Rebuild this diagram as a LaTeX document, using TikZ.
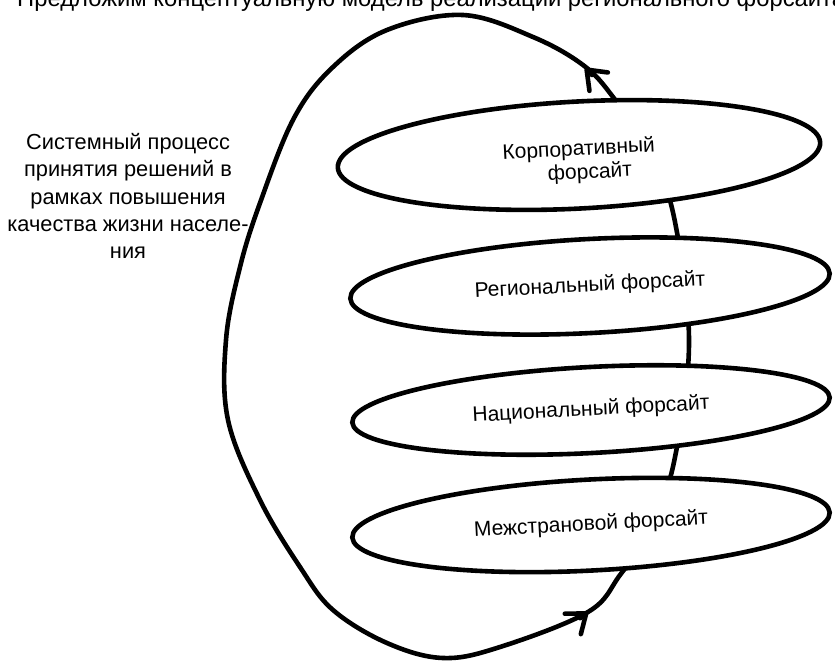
\documentclass[tikz,border=0pt]{standalone}
\usepackage{fontspec}
\setmainfont{Liberation Sans}
\usetikzlibrary{arrows.meta,shapes.geometric}
\tikzset{
  loopline/.style={line width=4.6pt, line join=round},
  arr/.style={line width=4.6pt, line cap=round, -{Straight Barb[length=17pt,width=26pt,line cap=round,line join=round]}},
  fsbox/.style={draw, fill=white, ellipse, line width=4.6pt, inner sep=0pt, rotate=3,
     font=\fontsize{21}{23.5}\selectfont, align=center},
  sidetext/.style={font=\fontsize{21.8}{27.2}\selectfont, align=center, inner sep=0pt},
  titletext/.style={font=\fontsize{23.8}{28}\selectfont, anchor=base west, inner sep=0pt}
}
\begin{document}
\begin{tikzpicture}[x=1pt,y=-1pt]
\useasboundingbox (0,0) rectangle (835,661);
\begin{scope}
\clip (0,0) rectangle (835,661);
\node[titletext] (title) at (17,7) {Предложим концептуальную модель реализации регионального форсайта};
\end{scope}
% big loop
\draw[loopline] plot[smooth cycle, tension=0.6] coordinates {
 (463,15) (533,37) (583,65) (613,97) (652,155) (675,222) (689,343) (674,462)
 (650,530) (620,575) (588,612) (500,647) (443,658) (387,643) (333,610) (300,567)
 (260,500) (228,420) (226,340) (240,267) (260,203) (294,118) (333,67) (387,30)};
\coordinate (a1s) at (580.1,618.2);
\coordinate (a1e) at (588,612);
\coordinate (a2s) at (592,75);
\coordinate (a2e) at (585,68);
\draw[arr] (a1s) -- (a1e);
\draw[arr] (a2s) -- (a2e);
% ellipses
\node[fsbox, minimum width=483pt, minimum height=107pt] (e1) at (579,155) {\rule{0pt}{29pt}Корпоративный\\\hspace{20pt}форсайт};
\node[fsbox, minimum width=480pt, minimum height=94pt] (e2) at (590,286) {Региональный форсайт};
\node[fsbox, minimum width=478pt, minimum height=86pt] (e3) at (591,410) {Национальный форсайт};
\node[fsbox, minimum width=478pt, minimum height=91pt] (e4) at (591,525) {Межстрановой форсайт};
% side text
\node[sidetext] (side) at (128,196) {Системный процесс\\принятия решений в\\рамках повышения\\качества жизни населе-\\ния};
\end{tikzpicture}
\end{document}
